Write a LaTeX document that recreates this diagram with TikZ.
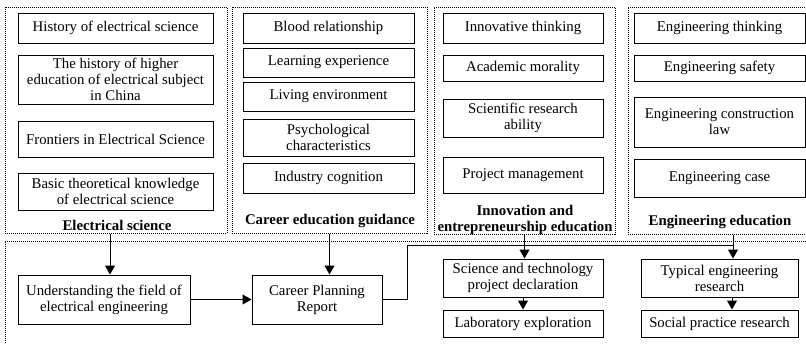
\documentclass[tikz,border=0pt]{standalone}
\usepackage{fontspec}
\setmainfont{Liberation Serif}
\usetikzlibrary{arrows.meta}

\begin{document}
\begin{tikzpicture}[x=1pt,y=-1pt,line width=1pt,
  box/.style={draw,align=center,inner sep=1pt,font=\fontsize{14.8}{16}\selectfont},
  panel/.style={draw,densely dotted,inner sep=0pt},
  title/.style={align=center,font=\fontsize{14.8}{16}\selectfont\bfseries},
  >={Triangle[length=9pt,width=10pt]}]
\useasboundingbox (0,0) rectangle (806,343);

% dotted frames
\node[panel,minimum width=222pt,minimum height=226pt] (p1) at (116,120) {};
\node[panel,minimum width=195pt,minimum height=226pt] (p2) at (329.5,120) {};
\node[panel,minimum width=181pt,minimum height=227pt] (p3) at (524.5,120.5) {};
\node[panel,minimum width=184pt,minimum height=227pt] (p4) at (720,120.5) {};
\node[panel,minimum width=807pt,minimum height=109pt] (p5) at (408.5,295.5) {};

% electrical science
\node[box,minimum width=195pt,minimum height=30pt] (es1) at (115.5,28) {History of electrical science};
\node[box,minimum width=195pt,minimum height=49pt] (es2) at (115.5,79.5) {The history of higher\\education of electrical subject\\in China};
\node[box,minimum width=195pt,minimum height=36pt] (es3) at (115.5,139) {Frontiers in Electrical Science};
\node[box,minimum width=195pt,minimum height=37pt] (es4) at (115.5,191.5) {Basic theoretical knowledge\\of electrical science};
\node[title] (es) at (117,225) {Electrical science};

% career education
\node[box,minimum width=171pt,minimum height=30pt] (cg1) at (328.5,28) {Blood relationship};
\node[box,minimum width=171pt,minimum height=29pt] (cg2) at (328.5,62.5) {Learning experience};
\node[box,minimum width=171pt,minimum height=29pt] (cg3) at (328.5,96.5) {Living environment};
\node[box,minimum width=171pt,minimum height=37pt] (cg4) at (328.5,137.5) {Psychological\\characteristics};
\node[box,minimum width=171pt,minimum height=30pt] (cg5) at (328.5,178) {Industry cognition};
\node[title] (cg) at (330,221) {Career education guidance};

% innovation
\node[box,minimum width=160pt,minimum height=30pt] (ie1) at (523,28) {Innovative thinking};
\node[box,minimum width=160pt,minimum height=26pt] (ie2) at (523,68) {Academic morality};
\node[box,minimum width=160pt,minimum height=38pt] (ie3) at (523,118) {Scientific research\\ability};
\node[box,minimum width=160pt,minimum height=36pt] (ie4) at (523,175) {Project management};
\node[title] (ie) at (525,220) {Innovation and\\entrepreneurship education};

% engineering
\node[box,minimum width=171pt,minimum height=30pt] (ee1) at (719.5,28) {Engineering thinking};
\node[box,minimum width=171pt,minimum height=26pt] (ee2) at (719.5,68) {Engineering safety};
\node[box,minimum width=171pt,minimum height=50pt] (ee3) at (719.5,122) {Engineering construction\\law};
\node[box,minimum width=171pt,minimum height=38pt] (ee4) at (719.5,178) {Engineering case};
\node[title] (ee) at (720,222) {Engineering education};

% practice row
\node[box,minimum width=172pt,minimum height=49pt] (field) at (104,299.5) {Understanding the field of\\electrical engineering};
\node[box,minimum width=130pt,minimum height=49pt] (plan) at (317,299.5) {Career Planning\\Report};
\node[box,minimum width=160pt,minimum height=38pt] (decl) at (523,278) {Science and technology\\project declaration};
\node[box,minimum width=160pt,minimum height=27pt] (lab) at (523,323.5) {Laboratory exploration};
\node[box,minimum width=157pt,minimum height=38pt] (typ) at (719.5,278) {Typical engineering\\research};
\node[box,minimum width=157pt,minimum height=27pt] (soc) at (719.5,323.5) {Social practice research};

\draw[->] ([xshift=-6pt]p1.south) -- ([xshift=-6pt]p1.south |- field.north);
\draw[->] (p2.south) -- (p2.south |- plan.north);
\draw[->] (field.east) -- (plan.west);
\coordinate (turn) at (407,245);
\draw (plan.east) -| (turn) -- ([xshift=13pt]p4.south |- turn);
\draw[->] (p3.south) -- (p3.south |- decl.north);
\draw[->] ([xshift=13pt]p4.south) -- ([xshift=13pt]p4.south |- typ.north);
\draw[->] (decl.south) -- (lab.north);
\draw[->] ([xshift=12.5pt]typ.south) -- ([xshift=12.5pt]soc.north);
\end{tikzpicture}
\end{document}
